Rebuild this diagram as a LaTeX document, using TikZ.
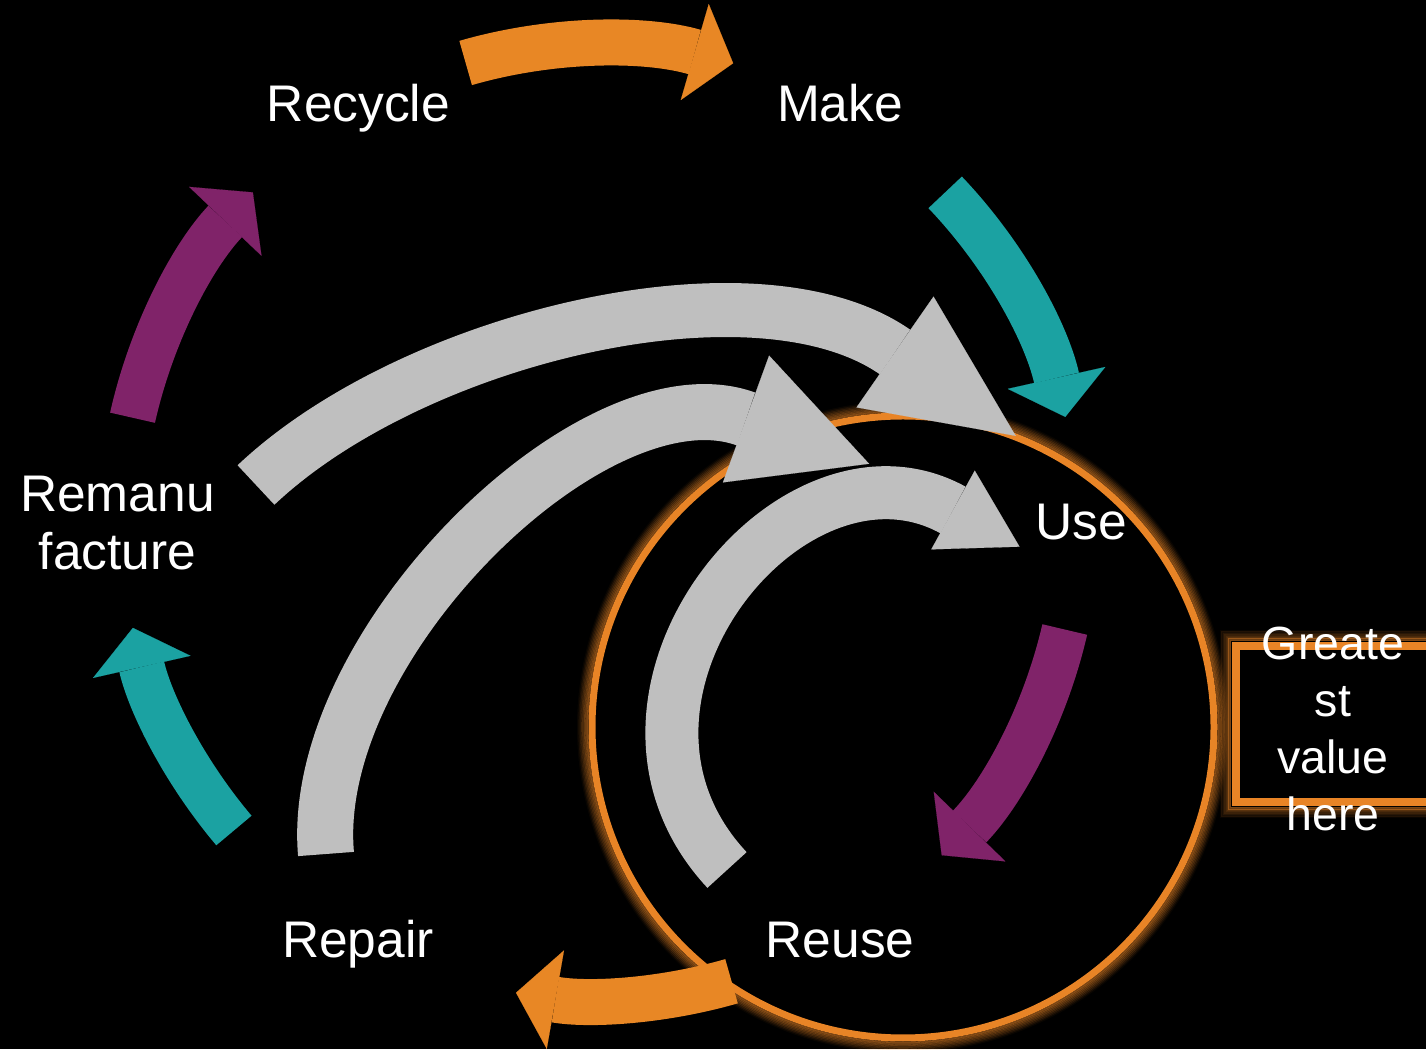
\documentclass[tikz,border=0pt]{standalone}
\usepackage{fontspec}
\setmainfont{Liberation Sans}
\usetikzlibrary{arrows.meta,calc}
\definecolor{cyOrange}{RGB}{232,135,37}
\definecolor{cyTeal}{RGB}{27,162,162}
\definecolor{cyPurple}{RGB}{128,35,105}
\definecolor{cyGrey}{RGB}{191,191,191}
\definecolor{cyRing}{RGB}{232,132,38}

\begin{document}
\begin{tikzpicture}[
  x=1pt,y=1pt,
  lbl/.style={text=white,inner sep=0pt,align=center,anchor=base,
              font=\fontsize{51.5}{58}\selectfont},
  small/.style={lbl,font=\fontsize{46.5}{57.3}\selectfont},
  ringarr/.style={line width=46pt,looseness=0.87,
                  -{Triangle[length=40pt,width=100pt,line width=0.1pt]}},
  glow/.style={cyRing,line width=1.6pt}
]
\useasboundingbox (0,0) rectangle (1426,1049);
\fill[black] (0,0) rectangle (1426,1049);
\clip (0,0) rectangle (1426,1049);

% value circle and box
\coordinate (val) at (903,322);
\foreach \i [evaluate=\i as \o using 0.6-0.07*\i,
             evaluate=\i as \r using 314+1.4*\i] in {1,...,8}
  \draw[glow,opacity=\o] (val) circle[radius=\r];
\draw[cyRing,line width=7pt] (val) circle[radius=311];
\foreach \i [evaluate=\i as \o using 0.6-0.07*\i,
             evaluate=\i as \d using 4+1.4*\i] in {1,...,8}
  \draw[glow,opacity=\o] (1236-\d,247-\d) rectangle (1440,403+\d);
\draw[cyRing,line width=8pt,fill=black] (1236,247) rectangle (1440,403);

% ends of the outer ring arrows
\coordinate (ring) at (599,527);
\coordinate (rec-out) at ($(ring)+(106.2:478)$);
\coordinate (mak-in)  at ($(ring)+(73.7:478)$);
\coordinate (mak-out) at ($(ring)+(43.6:478)$);
\coordinate (use-in)  at ($(ring)+(12.7:478)$);
\coordinate (use-out) at ($(ring)+(-13:478)$);
\coordinate (reu-in)  at ($(ring)+(-44.2:478)$);
\coordinate (reu-out) at ($(ring)+(-73.9:478)$);
\coordinate (rep-in)  at ($(ring)+(-100:478)$);
\coordinate (rep-out) at ($(ring)+(-139.8:478)$);
\coordinate (rem-in)  at ($(ring)+(-167.2:478)$);
\coordinate (rem-out) at ($(ring)+(167.4:478)$);
\coordinate (rec-in)  at ($(ring)+(136.4:478)$);

\draw[ringarr,cyOrange] (rec-out) to[bend left=16.2] (mak-in);
\draw[ringarr,cyTeal]   (mak-out) to[bend left=15.5] (use-in);
\draw[ringarr,cyPurple] (use-out) to[bend left=15.6] (reu-in);
\draw[ringarr,cyOrange] (reu-out) to[bend left=13]   (rep-in);
\draw[ringarr,cyTeal]   (rep-out) to[bend left=13.7] (rem-in);
\draw[ringarr,cyPurple] (rem-out) to[bend left=15.5] (rec-in);

% shortcuts back to use (heads stick out past the end)
\coordinate (rem-g) at (256,564);  \coordinate (use-g1) at (895,697);
\coordinate (rep-g) at (326,195);  \coordinate (use-g2) at (746,630);
\coordinate (reu-g) at (727,179);  \coordinate (use-g3) at (953,539);
\draw[cyGrey,line width=54pt,shorten >=-147pt,
      -{Triangle[length=147pt,width=135pt,line width=0.1pt]}]
  (rem-g) .. controls +(43.4:215) and +(145.2:170) .. (use-g1);
\draw[cyGrey,line width=56pt,shorten >=-131pt,
      -{Triangle[length=131pt,width=135pt,line width=0.1pt]}]
  (rep-g) .. controls +(95:210) and +(160:160) .. (use-g2);
\draw[cyGrey,line width=53pt,shorten >=-76pt,
      -{Triangle[length=76pt,width=90pt,line width=0.1pt]}]
  (reu-g) .. controls +(133:235) and +(151.1:185) .. (use-g3);

\node[lbl] (rec) at (358.5,927) {Recycle};
\node[lbl] (mak) at (840,927) {Make};
\node[lbl] (use) at (1081,509) {Use};
\node[lbl] (reu) at (840,92) {Reuse};
\node[lbl] (rep) at (358,92) {Repair};
\node[lbl] (rem) at (117.5,479) {Remanu\\facture};
\node[small] (grt) at (1333,218) {Greate\\st\\value\\here};
\end{tikzpicture}
\end{document}
